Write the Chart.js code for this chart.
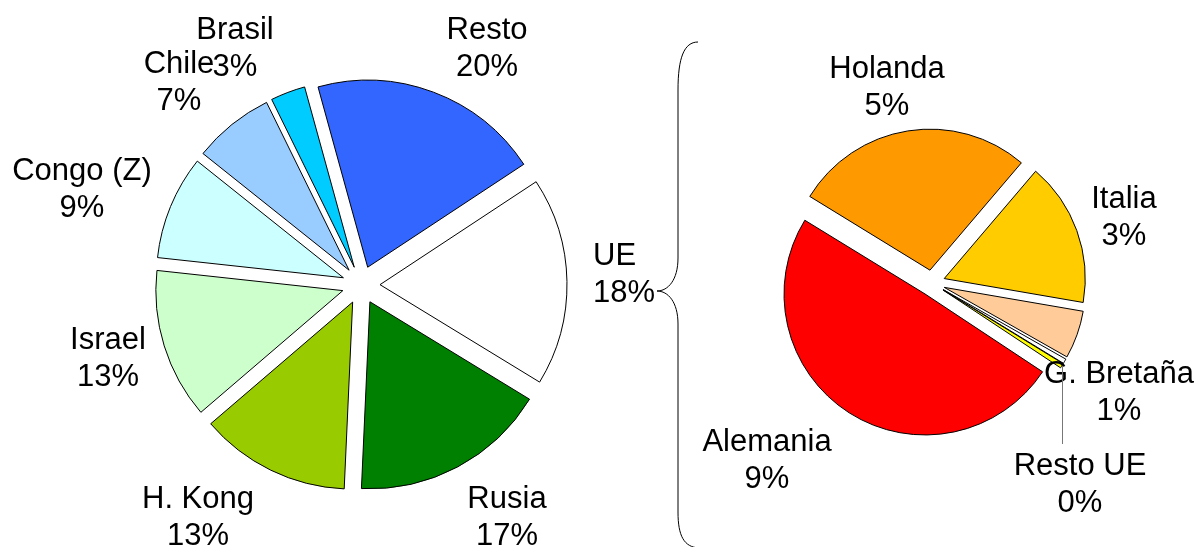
<!DOCTYPE html>
<html>
<head>
<meta charset="utf-8">
<script src="https://cdn.jsdelivr.net/npm/chart.js@4/dist/chart.umd.min.js"></script>
<style>
  body { margin: 0; background: #fff; }
  #wrap { position: relative; width: 1201px; height: 547px; }
  canvas { position: absolute; left: 0; top: 0; }
</style>
</head>
<body>
<div id="wrap">
  <canvas id="paisesChart" width="1201" height="547"></canvas>
  <canvas id="ueChart" width="1201" height="547"></canvas>
</div>
<script>
// Datos (% del total)
const paises = ['Resto', 'UE', 'Rusia', 'H. Kong', 'Israel', 'Congo (Z)', 'Chile', 'Brasil'];
const paisesValores = [20, 18, 17, 13, 13, 9, 7, 3];
const paisesColores = ['#3366ff', '#ffffff', '#008000', '#99cc00', '#ccffcc', '#ccffff', '#99ccff', '#00ccff'];

const ue = ['Alemania', 'Holanda', 'Italia', 'G. Bretaña', '', 'Resto UE'];
const ueValores = [9, 5, 3, 1, 0.1, 0.1];
const ueColores = ['#ff0000', '#ff9900', '#ffcc00', '#ffcc99', '#ffffff', '#ffff00'];

// Posición de las etiquetas: [x, y centro de la primera línea, alineación]
const paisesPos = [[487, 28], [593, 254, 'left'], [507, 497], [198, 497], [108, 338], [82, 169], [179, 62], [235, 28]];
const uePos = [[767, 440], [887, 67], [1124, 197], [1119, 372], null, [1080, 464]];

const FONT = '31px "Liberation Sans", Arial, sans-serif';
const LINEA = 37;

// Dibuja las porciones separadas del centro
const separar = {
    id: 'separar',
    beforeDatasetDraw(chart, args, opts) {
        const ctx = chart.ctx;
        const d = opts.distancia || 0;
        args.meta.data.forEach(function (arc) {
            const mid = (arc.startAngle + arc.endAngle) / 2;
            ctx.save();
            ctx.translate(Math.cos(mid) * d, Math.sin(mid) * d);
            arc.draw(ctx);
            ctx.restore();
        });
        return false;
    }
};

// Etiquetas "nombre / xx%"
const etiquetas = {
    id: 'etiquetas',
    afterDraw(chart, args, opts) {
        const ctx = chart.ctx;
        const labels = chart.data.labels;
        const values = chart.data.datasets[0].data;
        ctx.save();
        ctx.font = FONT;
        ctx.fillStyle = '#000';
        ctx.textBaseline = 'alphabetic';
        opts.pos.forEach(function (p, i) {
            if (!p) return;
            ctx.textAlign = p[2] || 'center';
            const base = p[1] + 11;
            ctx.fillText(labels[i], p[0], base);
            ctx.fillText(Math.round(values[i]) + '%', p[0], base + LINEA);
        });

        // linea guía de "Resto UE"
        if (opts.guia != null) {
            const arc = chart.getDatasetMeta(0).data[opts.guia];
            const mid = (arc.startAngle + arc.endAngle) / 2;
            const r = arc.outerRadius + opts.distancia;
            const gx = Math.round(arc.x + Math.cos(mid) * r) + 0.5;
            const gy = arc.y + Math.sin(mid) * r;
            ctx.strokeStyle = '#777';
            ctx.lineWidth = 1;
            ctx.beginPath();
            ctx.moveTo(gx, gy);
            ctx.lineTo(gx, opts.pos[opts.guia][1] - 20);
            ctx.stroke();
        }

        // llave que une UE con el desglose
        if (opts.llave) {
            ctx.strokeStyle = '#000';
            ctx.lineWidth = 1;
            ctx.beginPath();
            ctx.moveTo(698, 42);
            ctx.bezierCurveTo(684, 42, 678, 58, 678, 90);
            ctx.lineTo(678, 258);
            ctx.bezierCurveTo(678, 280, 668, 291, 657, 291);
            ctx.bezierCurveTo(668, 291, 678, 302, 678, 324);
            ctx.lineTo(678, 512);
            ctx.bezierCurveTo(678, 536, 684, 547, 699, 548);
            ctx.stroke();
        }
        ctx.restore();
    }
};

function tarta(id, labels, values, colors, cx, cy, radio, giro, dist, etiq) {
    const canvas = document.getElementById(id);
    return new Chart(canvas.getContext('2d'), {
        type: 'pie',
        data: {
            labels: labels,
            datasets: [{
                data: values,
                backgroundColor: colors,
                borderColor: '#000',
                borderWidth: 1,
                borderJoinStyle: 'miter',
                radius: radio,
                rotation: giro
            }]
        },
        options: {
            responsive: false,
            animation: false,
            events: [],
            layout: {
                padding: {
                    left: Math.max(0, 2 * cx - canvas.width),
                    right: Math.max(0, canvas.width - 2 * cx),
                    top: Math.max(0, 2 * cy - canvas.height),
                    bottom: Math.max(0, canvas.height - 2 * cy)
                }
            },
            plugins: {
                legend: { display: false },
                tooltip: { enabled: false },
                separar: { distancia: dist },
                etiquetas: etiq
            }
        },
        plugins: [separar, etiquetas]
    });
}

tarta('paisesChart', paises, paisesValores, paisesColores, 361, 285, 187, -15.4, 19,
    { pos: paisesPos });
tarta('ueChart', ue, ueValores, ueColores, 932, 283, 141, 123.5, 13,
    { pos: uePos, guia: 5, distancia: 13, llave: true });
</script>
</body>
</html>
